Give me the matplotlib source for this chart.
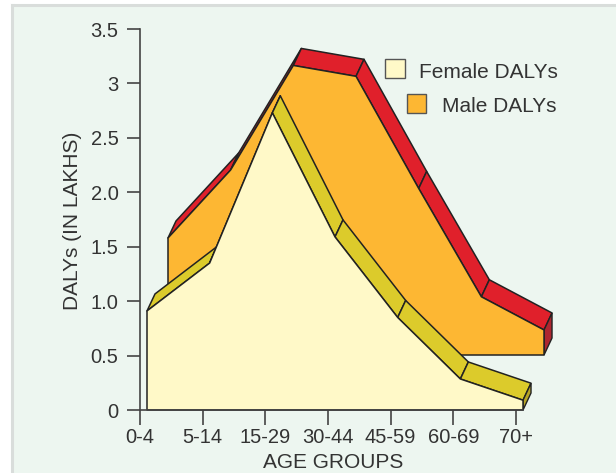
import matplotlib
matplotlib.use("Agg")
import matplotlib.pyplot as plt
from matplotlib.patches import Polygon, Rectangle
import numpy as np

plt.rcParams['font.family'] = ['Liberation Sans', 'DejaVu Sans']

# ---- data ----
age_groups = ["0-4", "5-14", "15-29", "30-44", "45-59", "60-69", "70+"]
female_dalys = [0.91, 1.35, 2.73, 1.59, 0.85, 0.285, 0.09]
male_dalys = [1.075, 1.70, 2.66, 2.56, 1.53, 0.535, 0.23]
y_ticks = [0, 0.5, 1.0, 1.5, 2.0, 2.5, 3, 3.5]
y_tick_labels = ["0", "0.5", "1.0", "1.5", "2.0", "2.5", "3", "3.5"]

# ---- style ----
W, H = 616, 473
PX_X = 62.67      # pixels per category
PX_Y = 108.86     # pixels per unit
bg = "#EDF6F0"
edge = "#222222"
txt = "#333333"
fem_front, fem_top, fem_side = "#FFF9C8", "#DCCB2B", "#B7A426"
mal_front, mal_top, mal_side = "#FDB733", "#E0202B", "#AE2630"

# 3D pseudo-extrusion offsets (in data units)
depth = (8 / PX_X, 17 / PX_Y)
fem_shift = (7 / PX_X, 0.0)
mal_shift = (28 / PX_X, 55 / PX_Y)

fig = plt.figure(figsize=(W / 100, H / 100), dpi=100)
fig.patch.set_facecolor("white")
# panel background with L-shaped grey border
fig.patches.append(Rectangle((11 / W, 0), 1, 1 - 5 / H, transform=fig.transFigure,
                             facecolor=bg, edgecolor="none", zorder=-2))
fig.lines.append(plt.Line2D([12 / W, 12 / W], [0, 1 - 5 / H], transform=fig.transFigure,
                            color="#D9DDDB", lw=2.2, zorder=-1))
fig.lines.append(plt.Line2D([12 / W, 1], [1 - 5 / H, 1 - 5 / H], transform=fig.transFigure,
                            color="#D9DDDB", lw=2.2, zorder=-1))

axw = 440
ax = fig.add_axes([140 / W, 63 / H, axw / W, 381 / H])
ax.set_facecolor("none")
ax.set_xlim(0, axw / PX_X)
ax.set_ylim(0, 3.5)


def draw_series(vals, shift, cfront, ctop, cside):
    n = len(vals)
    xs = np.arange(n) + shift[0]
    base = shift[1]
    ys = np.array(vals) + base
    dx, dy = depth
    # top bands
    for i in range(n - 1):
        pts = [(xs[i], ys[i]), (xs[i + 1], ys[i + 1]),
               (xs[i + 1] + dx, ys[i + 1] + dy), (xs[i] + dx, ys[i] + dy)]
        ax.add_patch(Polygon(pts, closed=True, facecolor=ctop, edgecolor=edge,
                             lw=1.1, joinstyle="round", clip_on=False, zorder=3))
    # right end face
    pts = [(xs[-1], base), (xs[-1], ys[-1]), (xs[-1] + dx, ys[-1] + dy), (xs[-1] + dx, base + dy)]
    ax.add_patch(Polygon(pts, closed=True, facecolor=cside, edgecolor=edge,
                         lw=1.0, clip_on=False, zorder=3))
    # front face
    pts = [(xs[0], base)] + list(zip(xs, ys)) + [(xs[-1], base)]
    ax.add_patch(Polygon(pts, closed=True, facecolor=cfront, edgecolor=edge,
                         lw=1.1, joinstyle="round", clip_on=False, zorder=3))


draw_series(male_dalys, mal_shift, mal_front, mal_top, mal_side)
draw_series(female_dalys, fem_shift, fem_front, fem_top, fem_side)

# axes styling
for s in ["top", "right"]:
    ax.spines[s].set_visible(False)
for s in ["left", "bottom"]:
    ax.spines[s].set_color("#444444")
    ax.spines[s].set_linewidth(1.2)
ax.spines["bottom"].set_bounds(0, 6 + fem_shift[0])
ax.spines["bottom"].set_zorder(4)

ax.set_xticks(range(len(age_groups)))
ax.set_xticklabels(age_groups, fontsize=14.5, color=txt)
ax.set_yticks(y_ticks)
ax.set_yticklabels(y_tick_labels, fontsize=14.5, color=txt)
ax.tick_params(axis="x", direction="out", length=10.8, width=1.2, color="#444444", pad=2)
ax.tick_params(axis="y", direction="out", length=9.4, width=1.2, color="#444444", pad=6)

fig.text(73 / W, 1 - 221 / H, "DALYs (IN LAKHS)", rotation=90, ha="center", va="center",
         fontsize=15, color=txt)
fig.text(333 / W, 1 - 462 / H, "AGE GROUPS", ha="center", va="center", fontsize=15, color=txt)

# legend
fig.patches.append(Rectangle((385 / W, 1 - 78.5 / H), 20 / W, 19 / H, transform=fig.transFigure,
                             facecolor=fem_front, edgecolor="#555555", lw=1.0, zorder=5))
fig.patches.append(Rectangle((406.5 / W, 1 - 112.7 / H), 19 / W, 19 / H, transform=fig.transFigure,
                             facecolor=mal_front, edgecolor="#555555", lw=1.0, zorder=5))
fig.text(419 / W, 1 - 72 / H, "Female DALYs", ha="left", va="center", fontsize=15, color=txt)
fig.text(441.5 / W, 1 - 106.5 / H, "Male DALYs", ha="left", va="center", fontsize=15, color=txt)

fig.savefig("out.png", dpi=100, facecolor=fig.get_facecolor())
